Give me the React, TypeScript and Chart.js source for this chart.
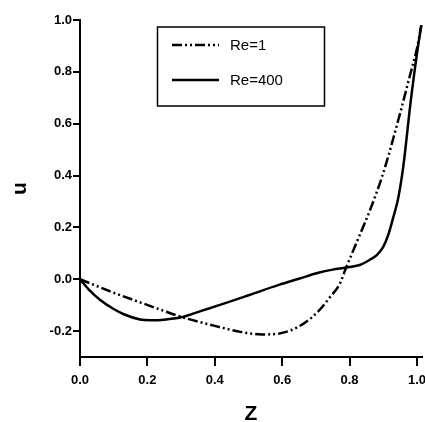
import React, { useEffect, useRef } from "react";
import { Chart, registerables } from "chart.js";

Chart.register(...registerables);

// Re=1 (dash-dot-dot)
const zRe1 = [0, 0.1, 0.18, 0.24, 0.3, 0.4, 0.48, 0.54, 0.6, 0.65, 0.69, 0.72, 0.74, 0.77, 0.79, 0.83, 0.86, 0.9, 0.95, 0.98, 1.0, 1.013];
const uRe1 = [0, -0.052, -0.09, -0.118, -0.145, -0.18, -0.204, -0.213, -0.207, -0.182, -0.145, -0.105, -0.072, -0.02, 0.045, 0.17, 0.264, 0.41, 0.64, 0.79, 0.89, 0.98];

// Re=400 (solid)
const zRe400 = [0, 0.03, 0.06, 0.1, 0.13, 0.178, 0.21, 0.25, 0.3, 0.36, 0.42, 0.5, 0.59, 0.65, 0.71, 0.75, 0.79, 0.83, 0.86, 0.88, 0.9, 0.914, 0.93, 0.944, 0.96, 0.98, 1.0, 1.013];
const uRe400 = [0, -0.045, -0.08, -0.115, -0.135, -0.155, -0.158, -0.156, -0.147, -0.122, -0.097, -0.062, -0.022, 0.002, 0.026, 0.037, 0.045, 0.055, 0.075, 0.092, 0.125, 0.168, 0.24, 0.31, 0.44, 0.67, 0.87, 0.98];

const xTicks = [0, 0.2, 0.4, 0.6, 0.8, 1.0];
const yTicks = [-0.2, 0, 0.2, 0.4, 0.6, 0.8, 1.0];
const seriesLabels = ["Re=1", "Re=400"];

const FONT = '"Liberation Sans", Arial, Helvetica, sans-serif';

const legendPlugin = {
  id: "boxLegend",
  afterDraw(chart: any) {
    const ctx = chart.ctx;
    ctx.save();
    ctx.strokeStyle = "#000";
    ctx.lineWidth = 1.5;
    ctx.strokeRect(157.5, 27, 167, 79);
    const ys = [45, 80];
    chart.data.datasets.forEach((ds: any, i: number) => {
      const y = ys[i];
      ctx.setLineDash(ds.borderDash || []);
      ctx.lineWidth = ds.borderWidth;
      ctx.beginPath();
      ctx.moveTo(172, y);
      ctx.lineTo(219, y);
      ctx.stroke();
      ctx.setLineDash([]);
      ctx.fillStyle = "#000";
      ctx.font = "15px " + FONT;
      ctx.textBaseline = "middle";
      ctx.textAlign = "left";
      ctx.fillText(ds.label, 230, y + 1);
    });
    ctx.restore();
  },
};

export default function App() {
  const ref = useRef<HTMLCanvasElement>(null);

  useEffect(() => {
    if (!ref.current) return;
    const chart = new Chart(ref.current, {
      type: "line",
      data: {
        datasets: [
          {
            label: seriesLabels[0],
            data: zRe1.map((z, i) => ({ x: z, y: uRe1[i] })),
            borderColor: "#000",
            borderWidth: 2.5,
            borderDash: [10, 3, 2, 3, 2, 3],
            pointRadius: 0,
            cubicInterpolationMode: "monotone",
            fill: false,
            clip: false as any,
          },
          {
            label: seriesLabels[1],
            data: zRe400.map((z, i) => ({ x: z, y: uRe400[i] })),
            borderColor: "#000",
            borderWidth: 2.5,
            pointRadius: 0,
            cubicInterpolationMode: "monotone",
            fill: false,
            clip: false as any,
          },
        ],
      },
      options: {
        responsive: false,
        animation: false,
        layout: { padding: { top: 20, right: 3, left: 0, bottom: 0 } },
        plugins: { legend: { display: false }, tooltip: { enabled: false } },
        scales: {
          x: {
            type: "linear",
            min: 0,
            max: 1.015,
            afterBuildTicks: (s: any) => {
              s.ticks = xTicks.map((v) => ({ value: v }));
            },
            afterFit: (s: any) => {
              s.height = 65;
              s.paddingLeft = 0;
              s.paddingRight = 0;
            },
            grid: { drawOnChartArea: false, drawTicks: true, tickLength: 9, color: "#000", lineWidth: 2 },
            border: { display: true, color: "#000", width: 2 },
            ticks: {
              color: "#000",
              padding: 7,
              maxRotation: 0,
              autoSkip: false,
              font: { family: FONT, size: 13, weight: "bold" },
              callback: (v: any) => Number(v).toFixed(1),
            },
            title: {
              display: true,
              text: "Z",
              color: "#000",
              font: { family: FONT, size: 21, weight: "bold", lineHeight: 0.7 },
              padding: { top: 0, bottom: 0 },
            },
          },
          y: {
            type: "linear",
            min: -0.3,
            max: 1.0,
            afterBuildTicks: (s: any) => {
              s.ticks = yTicks.map((v) => ({ value: v }));
            },
            afterFit: (s: any) => {
              s.width = 80;
              s.paddingTop = 0;
              s.paddingBottom = 0;
            },
            grid: { drawOnChartArea: false, drawTicks: true, tickLength: 7, color: "#000", lineWidth: 2 },
            border: { display: true, color: "#000", width: 2 },
            ticks: {
              color: "#000",
              padding: 1,
              autoSkip: false,
              font: { family: FONT, size: 13, weight: "bold" },
              callback: (v: any) => Number(v).toFixed(1),
            },
            title: {
              display: true,
              text: "u",
              color: "#000",
              font: { family: FONT, size: 21, weight: "bold", lineHeight: 1 },
              padding: { top: 10, bottom: 0 },
            },
          },
        },
      },
      plugins: [legendPlugin],
    });
    return () => chart.destroy();
  }, []);

  return (
    <div style={{ position: "absolute", left: 0, top: 0, width: 425, height: 422, background: "#fff" }}>
      <canvas ref={ref} width={425} height={422} style={{ display: "block" }} />
    </div>
  );
}
